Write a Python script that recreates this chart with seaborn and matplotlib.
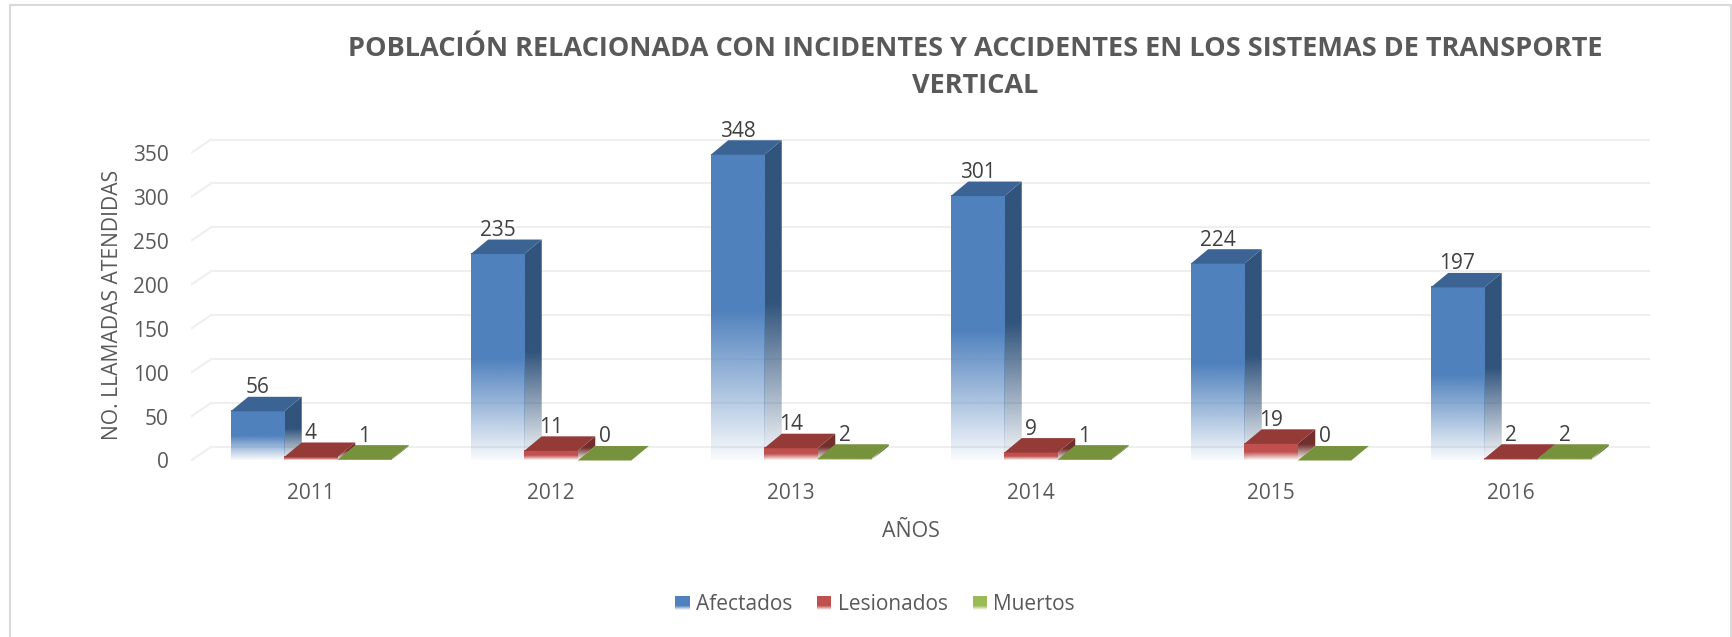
import numpy as np
import pandas as pd
import matplotlib
matplotlib.use("Agg")
import matplotlib.pyplot as plt
from matplotlib.colors import to_rgb
from matplotlib.legend_handler import HandlerBase
from matplotlib.patches import Polygon, Rectangle
import seaborn as sns

years = ["2011", "2012", "2013", "2014", "2015", "2016"]
afectados = [56, 235, 348, 301, 224, 197]
lesionados = [4, 11, 14, 9, 19, 2]
muertos = [1, 0, 2, 1, 0, 2]
series_names = ["Afectados", "Lesionados", "Muertos"]
front_colors = ["#4f81bd", "#c0504d", "#9bbb59"]
side_colors = ["#31547c", "#722f2d", "#5f7a32"]
top_colors = ["#3b6494", "#943a37", "#76923c"]
y_ticks = [0, 50, 100, 150, 200, 250, 300, 350]

title = "POBLACIÓN RELACIONADA CON INCIDENTES Y ACCIDENTES EN LOS SISTEMAS DE TRANSPORTE\nVERTICAL"

W, H = 1733, 637
GRAY = "#595959"

sns.set_theme(style="white")
plt.rcParams["font.family"] = ["Open Sans", "DejaVu Sans"]

df = pd.DataFrame({"year": years, "Afectados": afectados, "Lesionados": lesionados, "Muertos": muertos})
long_df = df.melt(id_vars="year", var_name="serie", value_name="valor")

fig = plt.figure(figsize=(W / 100, H / 100), dpi=100)
# axes placed in pixels: y=0 sits at 460.5, y=350 at 153
px_per_unit = (460.5 - 153) / 350
px_per_cat = 240
ymax = 390
ax = fig.add_axes([191 / W, (H - 460.5) / H, (1650 - 191) / W, ymax * px_per_unit / H])

sns.barplot(data=long_df, x="year", y="valor", hue="serie", hue_order=series_names,
            palette=front_colors, width=0.669, gap=0, legend=False, ax=ax, zorder=3)

# depth of the fake 3d boxes
DX = 17.5 / px_per_cat
DY = 14.5 / px_per_unit


def fade(color, solid_from=0.5, n=128):
    # solid above solid_from, fading out to the base
    rgba = np.ones((n, 1, 4))
    rgba[:, 0, :3] = to_rgb(color)
    rgba[:, 0, 3] = np.clip(np.linspace(0.04, 1.0 / solid_from, n), 0, 1)
    return rgba


xlim = (-0.5, 5.5 + (1650 - 1631) / px_per_cat)

# gridlines on the back wall with the slanted bit on the side wall
grid_dx = 20 / px_per_cat
grid_dy = 13.5 / px_per_unit
for t in y_ticks:
    ax.plot([-0.5, -0.5 + grid_dx], [t, t + grid_dy], color="#efefef", lw=1.5, zorder=1)
    ax.plot([-0.5 + grid_dx, xlim[1]], [t + grid_dy] * 2, color="#efefef", lw=1.5, zorder=1)

z = 4
for i, container in enumerate(ax.containers):
    for bar, val in zip(container, [afectados, lesionados, muertos][i]):
        x0, x1 = bar.get_x(), bar.get_x() + bar.get_width()
        h = bar.get_height()
        bar.set_facecolor("none")
        bar.set_edgecolor("none")
        if h > 0:
            # side face
            side = Polygon([(x1, 0), (x1 + DX, DY), (x1 + DX, h + DY), (x1, h)], closed=True,
                           facecolor="none", edgecolor="none", zorder=z)
            ax.add_patch(side)
            im = ax.imshow(fade(side_colors[i]), origin="lower", aspect="auto", interpolation="bilinear",
                           extent=(x1, x1 + DX, 0, h + DY), zorder=z)
            im.set_clip_path(side)
            # front face
            ax.imshow(fade(front_colors[i]), origin="lower", aspect="auto", interpolation="bilinear",
                      extent=(x0, x1, 0, h), zorder=z + 0.1)
        # top face
        ax.add_patch(Polygon([(x0, h), (x1, h), (x1 + DX, h + DY), (x0 + DX, h + DY)], closed=True,
                             facecolor=top_colors[i], edgecolor="none", zorder=z + 0.2))
        ax.text((x0 + x1) / 2, h + DY + 9 / px_per_unit, str(val), ha="center", va="center",
                fontsize=15, color="#404040", zorder=20)
        z += 1

ax.set_xlim(*xlim)
ax.set_ylim(0, ymax)
ax.set_yticks(y_ticks)
sns.despine(ax=ax, left=True, bottom=True, top=True, right=True)
ax.tick_params(axis="x", length=0, pad=16.5, labelsize=15, labelcolor=GRAY)
ax.tick_params(axis="y", length=0, pad=16, labelsize=15, labelcolor=GRAY)
ax.grid(False)

ax.set_xlabel("AÑOS", fontsize=15.4, color=GRAY)
ax.set_ylabel("NO. LLAMADAS ATENDIDAS", fontsize=15.2, color=GRAY)
ax_w = 1650 - 191
ax_h = ymax * px_per_unit
ax.xaxis.set_label_coords((910.6 - 191) / ax_w, -(521 - 460.5) / ax_h)
ax.yaxis.set_label_coords((123 - 191) / ax_w, (460.5 - 305) / ax_h)

fig.text(975 / W, 1 - 67.5 / H, title, ha="center", va="center", fontsize=19.5, fontweight="bold",
         color=GRAY, linespacing=1.52)


class FadeHandler(HandlerBase):
    # legend swatch made of thin strips so it fades like the bars
    def __init__(self, color):
        super().__init__()
        self.color = color

    def create_artists(self, legend, orig_handle, xd, yd, width, height, fontsize, trans):
        strips = []
        n = 14
        r, g, b = to_rgb(self.color)
        for k in range(n):
            a = min(1.0, (k + 0.5) / n * 3.2)
            c = (1 - a + a * r, 1 - a + a * g, 1 - a + a * b)
            strips.append(Rectangle((xd, yd + height * k / n), width, height / n * 1.05,
                                    facecolor=c, edgecolor="none", transform=trans))
        return strips


handles = [Rectangle((0, 0), 1, 1, label=name) for name in series_names]
fig.legend(handles=handles, labels=series_names, ncol=3, frameon=False, loc="center",
           bbox_to_anchor=(875 / W, 1 - 604.5 / H), fontsize=15, labelcolor=GRAY,
           handlelength=0.68, handleheight=0.68, handletextpad=0.3, columnspacing=1.2,
           handler_map={h: FadeHandler(c) for h, c in zip(handles, front_colors)})

# chart frame, it runs off the bottom of the picture
fig.add_artist(Rectangle((10 / W, -0.02), (1731 - 10) / W, 1 + 0.02 - 5 / H, transform=fig.transFigure,
                         facecolor="none", edgecolor="#d9d9d9", lw=1.5))

fig.savefig("out.png", dpi=100, facecolor="white")
